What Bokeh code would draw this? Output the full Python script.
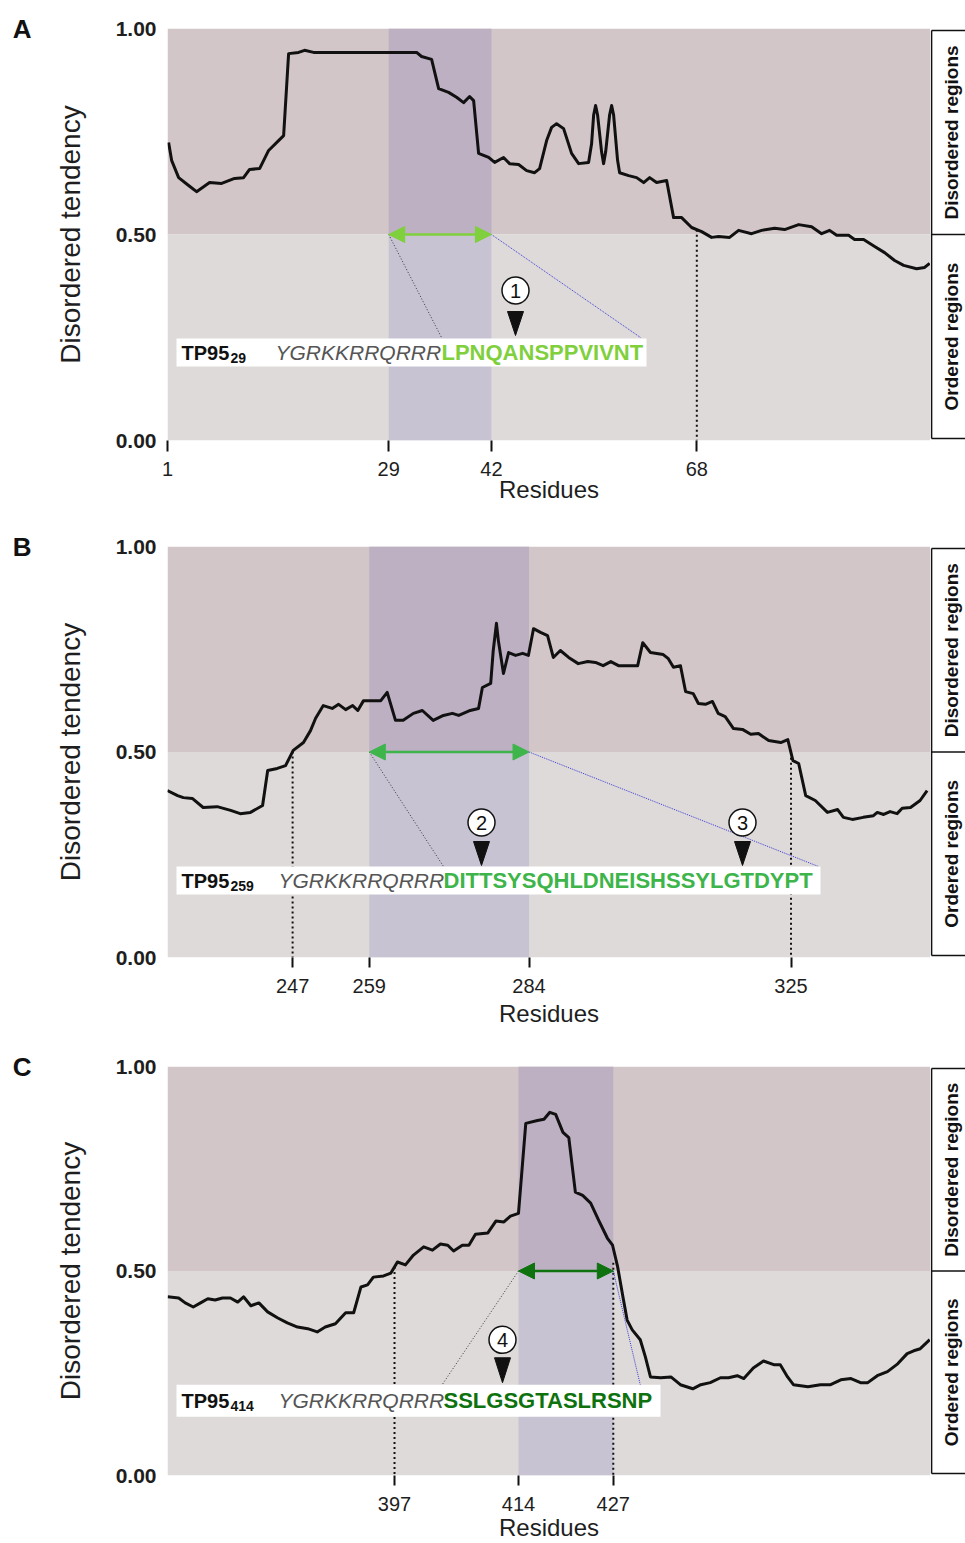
import numpy as np
from bokeh.plotting import figure
from bokeh.layouts import column, row
from bokeh.models import Range1d, FixedTicker, Arrow, NormalHead, NumeralTickFormatter, LinearAxis
from bokeh.core.properties import value
from bokeh.embed import file_html
from bokeh.resources import INLINE

FONT = "Liberation Sans"

# ---------------- data ----------------
a_res = [1.14, 1.52, 2.41, 3.67, 4.68, 6.33, 7.85, 9.49, 10.63, 11.39, 12.66, 13.80, 15.06, 15.70,
         16.33, 17.59, 18.35, 19.49, 32.53, 33.16, 34.43, 35.32, 36.58, 37.59, 38.48, 39.24, 39.75,
         40.38, 41.65, 42.41, 43.54, 44.30, 45.44, 46.46, 47.47, 48.10, 48.99, 49.62, 50.25, 51.14,
         52.15, 53.04, 54.30, 54.68, 54.94, 55.19, 55.44, 55.95, 56.20, 56.46, 56.96, 57.22, 57.47,
         57.97, 58.23, 59.37, 60.38, 61.27, 62.03, 62.91, 64.18, 65.06, 66.08, 67.34, 68.61, 69.87,
         70.76, 72.15, 73.29, 74.94, 76.20, 77.85, 79.11, 80.89, 82.53, 83.80, 84.81, 85.70, 87.22,
         87.97, 89.11, 90.51, 91.77, 93.04, 94.18, 95.82, 96.84, 97.47]
a_val = [0.723, 0.680, 0.638, 0.619, 0.604, 0.626, 0.624, 0.636, 0.638, 0.658, 0.660, 0.704, 0.728, 0.740,
         0.939, 0.942, 0.947, 0.942, 0.942, 0.932, 0.925, 0.854, 0.845, 0.833, 0.820, 0.835, 0.825,
         0.697, 0.687, 0.675, 0.687, 0.672, 0.670, 0.655, 0.650, 0.660, 0.728, 0.760, 0.769, 0.757,
         0.697, 0.672, 0.675, 0.720, 0.790, 0.813, 0.790, 0.700, 0.672, 0.700, 0.790, 0.813, 0.790,
         0.680, 0.650, 0.643, 0.638, 0.626, 0.638, 0.626, 0.631, 0.541, 0.541, 0.517, 0.507, 0.493,
         0.495, 0.493, 0.510, 0.502, 0.510, 0.515, 0.512, 0.524, 0.519, 0.502, 0.510, 0.498, 0.498,
         0.488, 0.488, 0.471, 0.456, 0.437, 0.425, 0.417, 0.420, 0.430]

b_res = [227.4, 229.0, 229.9, 231.3, 233.0, 235.2, 237.3, 238.8, 240.4, 242.3, 243.1, 244.6, 245.9,
         247.1, 248.7, 249.8, 250.6, 251.8, 253.2, 254.2, 255.3, 256.4, 257.2, 258.1, 260.8, 261.8,
         263.1, 264.3, 265.9, 267.3, 269.0, 270.6, 272.0, 273.0, 274.8, 276.1, 276.7, 278.0, 278.4,
         278.9, 279.2, 280.0, 280.8, 281.9, 283.0, 283.9, 284.7, 285.8, 286.9, 287.8, 288.9, 290.2,
         291.7, 293.2, 294.4, 295.6, 296.8, 298.0, 301.0, 301.8, 303.0, 305.0, 305.8, 306.6, 307.7,
         308.5, 309.7, 310.5, 311.6, 312.7, 313.6, 314.7, 316.0, 317.4, 318.7, 319.9, 321.5, 323.4,
         324.5, 325.3, 326.2, 327.3, 328.8, 330.7, 332.3, 333.2, 334.6, 336.3, 337.9, 338.5, 339.5,
         340.5, 341.6, 342.4, 343.7, 345.2, 346.3]
b_val = [0.406, 0.394, 0.389, 0.387, 0.365, 0.367, 0.358, 0.350, 0.353, 0.370, 0.455, 0.460, 0.467,
         0.504, 0.523, 0.552, 0.582, 0.613, 0.606, 0.616, 0.603, 0.613, 0.601, 0.625, 0.625, 0.645,
         0.577, 0.577, 0.594, 0.601, 0.577, 0.589, 0.594, 0.589, 0.601, 0.606, 0.657, 0.667, 0.747,
         0.813, 0.771, 0.691, 0.742, 0.735, 0.740, 0.735, 0.800, 0.791, 0.783, 0.730, 0.747, 0.730,
         0.715, 0.720, 0.718, 0.710, 0.720, 0.710, 0.710, 0.766, 0.742, 0.737, 0.727, 0.706, 0.710,
         0.647, 0.642, 0.618, 0.616, 0.623, 0.594, 0.586, 0.557, 0.555, 0.543, 0.545, 0.528, 0.523,
         0.530, 0.479, 0.472, 0.394, 0.382, 0.353, 0.360, 0.341, 0.336, 0.341, 0.345, 0.353, 0.348,
         0.355, 0.350, 0.363, 0.365, 0.382, 0.406]

c_res = [365.9, 367.4, 368.3, 369.4, 370.4, 371.4, 372.4, 373.4, 374.5, 375.5, 376.3, 377.3, 378.4,
         379.6, 381.0, 382.3, 383.7, 385.1, 386.4, 387.5, 388.9, 390.3, 391.4, 392.4, 393.3, 394.1,
         395.5, 396.5, 397.4, 398.5, 399.6, 401.0, 402.2, 403.3, 404.3, 405.1, 406.3, 407.2, 408.1,
         409.8, 410.9, 412.0, 412.9, 414.0, 415.0, 416.6, 417.5, 418.3, 419.1, 420.1, 420.9, 421.8,
         422.8, 423.9, 425.0, 426.2, 426.9, 427.6, 428.4, 428.9, 429.6, 430.7, 431.4, 432.1, 433.5,
         434.9, 436.2, 437.9, 439.0, 440.3, 441.7, 442.8, 444.0, 444.9, 446.2, 447.6, 449.0, 449.9,
         450.9, 451.7, 453.7, 455.4, 456.8, 458.2, 459.6, 460.9, 461.9, 463.2, 464.6, 466.0, 467.3,
         468.2, 469.1, 470.4]
c_val = [0.437, 0.434, 0.422, 0.412, 0.422, 0.432, 0.429, 0.434, 0.434, 0.424, 0.437, 0.415, 0.422,
         0.400, 0.385, 0.373, 0.363, 0.359, 0.351, 0.363, 0.371, 0.398, 0.398, 0.461, 0.466, 0.485,
         0.488, 0.495, 0.522, 0.515, 0.539, 0.559, 0.551, 0.566, 0.563, 0.549, 0.563, 0.563, 0.590,
         0.593, 0.622, 0.620, 0.634, 0.641, 0.861, 0.868, 0.871, 0.888, 0.883, 0.839, 0.826, 0.693,
         0.685, 0.666, 0.624, 0.580, 0.563, 0.510, 0.429, 0.380, 0.356, 0.332, 0.290, 0.241, 0.239,
         0.241, 0.222, 0.212, 0.222, 0.227, 0.239, 0.239, 0.244, 0.237, 0.263, 0.280, 0.271, 0.271,
         0.241, 0.222, 0.217, 0.222, 0.222, 0.234, 0.237, 0.227, 0.227, 0.244, 0.254, 0.273, 0.298,
         0.305, 0.310, 0.332]

a_ticks = [1, 29, 42, 68]
b_ticks = [247, 259, 284, 325]
c_ticks = [397, 414, 427]
y_ticks = [0.0, 0.5, 1.0]

a_band = (29, 42)
b_band = (259, 284)
c_band = (414, 427)

a_vlines = [68]
b_vlines = [247, 325]
c_vlines = [397, 427]

prefix = "YGRKKRRQRRR"
a_peptide = "LPNQANSPPVIVNT"
b_peptide = "DITTSYSQHLDNEISHSSYLGTDYPT"
c_peptide = "SSLGSGTASLRSNP"
a_sub, b_sub, c_sub = "29", "259", "414"

# ---------------- styling / layout ----------------
UP_BG, LO_BG = "#d2c6c8", "#dedad9"
UP_BAND, LO_BAND = "#bdb0c3", "#c7c3d3"
TXT = "#1e1e1e"
MAIN_W, BOX_W = 930, 35

# annotation layout (reference pixel geometry)
ref_txt = {"A": (441, 640, 337), "B": (443, 818, 866), "C": (441, 640, 1386)}
seq_box = {"A": (176, 646, 338, 366), "B": (176, 820, 866, 894), "C": (176, 660, 1385, 1417)}
seq_x = {"A": (275, 441), "B": (278, 443), "C": (278, 443)}


def panel(letter, res, val, xr, ticks, band, vlines, sub, pep, pep_color, circles,
          ref, H, T, B, tick_out, tick_standoff, lab_standoff):
    x0, x1 = xr
    rl, rr, rt, rb = ref

    def fx(px):
        return x0 + (px - rl) / (rr - rl) * (x1 - x0)

    def fy(py):
        return (rb - py) / (rb - rt)

    p = figure(width=MAIN_W, height=H, x_range=Range1d(x0, x1), y_range=Range1d(0, 1),
               output_backend="svg", toolbar_location=None,
               min_border_left=167, min_border_right=0,
               min_border_top=T, min_border_bottom=B)
    p.outline_line_color = None
    p.background_fill_color = "white"
    p.border_fill_color = "white"
    p.xgrid.visible = False
    p.ygrid.visible = False

    p.xaxis.ticker = FixedTicker(ticks=ticks)
    p.xaxis.axis_line_color = None
    p.xaxis.major_tick_line_color = "#111111"
    p.xaxis.major_tick_line_width = 2
    p.xaxis.major_tick_out = tick_out
    p.xaxis.major_tick_in = 0
    p.xaxis.minor_tick_line_color = None
    p.xaxis.major_label_standoff = tick_standoff
    p.xaxis.major_label_text_font = FONT
    p.xaxis.major_label_text_font_size = "20px"
    p.xaxis.major_label_text_color = TXT
    p.xaxis.axis_label = "Residues"
    p.xaxis.axis_label_text_font = FONT
    p.xaxis.axis_label_text_font_size = "24px"
    p.xaxis.axis_label_text_font_style = "normal"
    p.xaxis.axis_label_text_color = TXT
    p.xaxis.axis_label_standoff = lab_standoff

    p.yaxis.ticker = FixedTicker(ticks=y_ticks)
    p.yaxis.formatter = NumeralTickFormatter(format="0.00")
    p.yaxis.axis_line_color = None
    p.yaxis.major_tick_line_color = None
    p.yaxis.major_tick_out = 0
    p.yaxis.major_tick_in = 0
    p.yaxis.minor_tick_line_color = None
    p.yaxis.major_label_standoff = 11
    p.yaxis.major_label_text_font = FONT
    p.yaxis.major_label_text_font_size = "21px"
    p.yaxis.major_label_text_font_style = "bold"
    p.yaxis.major_label_text_color = TXT
    p.yaxis.axis_label = "Disordered tendency"
    p.yaxis.axis_label_text_font = FONT
    p.yaxis.axis_label_text_font_size = "28px"
    p.yaxis.axis_label_text_font_style = "normal"
    p.yaxis.axis_label_text_color = TXT
    p.yaxis.axis_label_standoff = 27

    # panel letter: an extra, bare left axis whose only tick label is the letter
    lax = LinearAxis(ticker=FixedTicker(ticks=[1]), major_label_overrides={1: letter},
                     axis_line_color=None, major_tick_line_color=None, minor_tick_line_color=None,
                     major_tick_out=0, major_tick_in=0, minor_tick_out=0, minor_tick_in=0,
                     major_label_standoff=20, major_label_text_font=FONT,
                     major_label_text_font_size="26px", major_label_text_font_style="bold",
                     major_label_text_color="#111111")
    p.add_layout(lax, "left")

    # backgrounds
    p.quad(left=x0, right=x1, bottom=0.5, top=1, fill_color=UP_BG, line_color=None)
    p.quad(left=x0, right=x1, bottom=0, top=0.5, fill_color=LO_BG, line_color=None)
    p.quad(left=band[0], right=band[1], bottom=0.5, top=1, fill_color=UP_BAND, line_color=None)
    p.quad(left=band[0], right=band[1], bottom=0, top=0.5, fill_color=LO_BAND, line_color=None)

    for xv in vlines:
        yv = min(float(np.interp(xv, res, val)), 0.52)
        p.line([xv, xv], [yv, 0], line_color="#111111", line_width=2, line_dash="2 3")

    p.line(res, val, line_color="#111111", line_width=3, line_join="round")

    tx0, tx1, ty = ref_txt[letter]
    p.line([band[0], fx(tx0)], [0.5, fy(ty)], line_color="#333333", line_width=1, line_dash="1 2")
    p.line([band[1], fx(tx1)], [0.5, fy(ty)], line_color="#3b3bd6", line_width=1, line_dash="1 1")

    p.add_layout(Arrow(x_start=band[0], y_start=0.5, x_end=band[1], y_end=0.5,
                       line_color=pep_color, line_width=2.5,
                       start=NormalHead(size=16, fill_color=pep_color, line_color=pep_color),
                       end=NormalHead(size=16, fill_color=pep_color, line_color=pep_color)))

    bl, br, bt, bb = seq_box[letter]
    p.quad(left=fx(bl), right=fx(br), bottom=fy(bb), top=fy(bt), fill_color="white", line_color=None)
    yc = fy((bt + bb) / 2)
    italic_x, pep_x = seq_x[letter]
    p.text(x=[fx(181)], y=[yc], text=["TP95"], text_font=value(FONT), text_font_size="20px",
           text_font_style="bold", text_color="#111111", text_align="left", text_baseline="middle")
    p.text(x=[fx(230)], y=[fy((bt + bb) / 2 + 5)], text=[sub], text_font=value(FONT),
           text_font_size="14px", text_font_style="bold", text_color="#111111",
           text_align="left", text_baseline="middle")
    p.text(x=[fx(italic_x)], y=[yc], text=[prefix], text_font=value(FONT), text_font_size="21px",
           text_font_style="italic", text_color="#555555", text_align="left", text_baseline="middle")
    p.text(x=[fx(pep_x)], y=[yc], text=[pep], text_font=value(FONT), text_font_size="22px",
           text_font_style="bold", text_color=pep_color, text_align="left", text_baseline="middle")

    for cx, cy, num, tt, tb in circles:
        p.patch([fx(cx - 8), fx(cx + 8), fx(cx)], [fy(tt), fy(tt), fy(tb)],
                fill_color="#111111", line_color="#111111")
        p.scatter([fx(cx)], [fy(cy)], marker="circle", size=27, fill_color="white",
                  line_color="#111111", line_width=1.5)
        p.text(x=[fx(cx)], y=[fy(cy)], text=[num], text_font=value(FONT), text_font_size="20px",
               text_color="#111111", text_align="center", text_baseline="middle")

    # right-hand region labels
    fh = H - T - B
    pad = 2.0 / fh
    q = figure(width=BOX_W, height=H, x_range=Range1d(0, 1), y_range=Range1d(-pad, 1 + pad),
               output_backend="svg", toolbar_location=None, x_axis_location=None,
               y_axis_location=None, min_border_left=0, min_border_right=0,
               min_border_top=T - 2, min_border_bottom=B - 2)
    q.outline_line_color = None
    q.xgrid.visible = False
    q.ygrid.visible = False
    q.background_fill_color = "white"
    q.border_fill_color = "white"
    q.line([0.03, 0.03], [0, 1], line_color="#111111", line_width=1.6)
    for yy in (0.0, 0.5, 1.0):
        q.line([0.03, 1], [yy, yy], line_color="#111111", line_width=1.6)
    q.text(x=[0.6, 0.6], y=[0.75, 0.25], text=["Disordered regions", "Ordered regions"],
           angle=np.pi / 2, text_font=value(FONT), text_font_size="19px", text_font_style="bold",
           text_color="#111111", text_align="center", text_baseline="middle")
    return row(p, q)


pa = panel("A", a_res, a_val, (1.0, 97.58), a_ticks, a_band, a_vlines, a_sub, a_peptide, "#7fd03c",
           [(515, 290, "1", 311, 335)], (167, 930, 28, 440), 519, 28, 79, 11, 10, -3)
pb = panel("B", b_res, b_val, (227.42, 346.83), b_ticks, b_band, b_vlines, b_sub, b_peptide, "#3db54a",
           [(481, 822, "2", 841, 865), (742, 822, "3", 841, 865)], (167, 930, 546, 957),
           519, 27, 81, 10, 11, 4)
pc = panel("C", c_res, c_val, (365.87, 470.5), c_ticks, c_band, c_vlines, c_sub, c_peptide, "#0e720e",
           [(502, 1340, "4", 1358, 1383)], (167, 930, 1066, 1476), 505, 28, 67, 10, 11, 0)

layout = column(pa, pb, pc)
open("out.html", "w").write(file_html(layout, INLINE))
